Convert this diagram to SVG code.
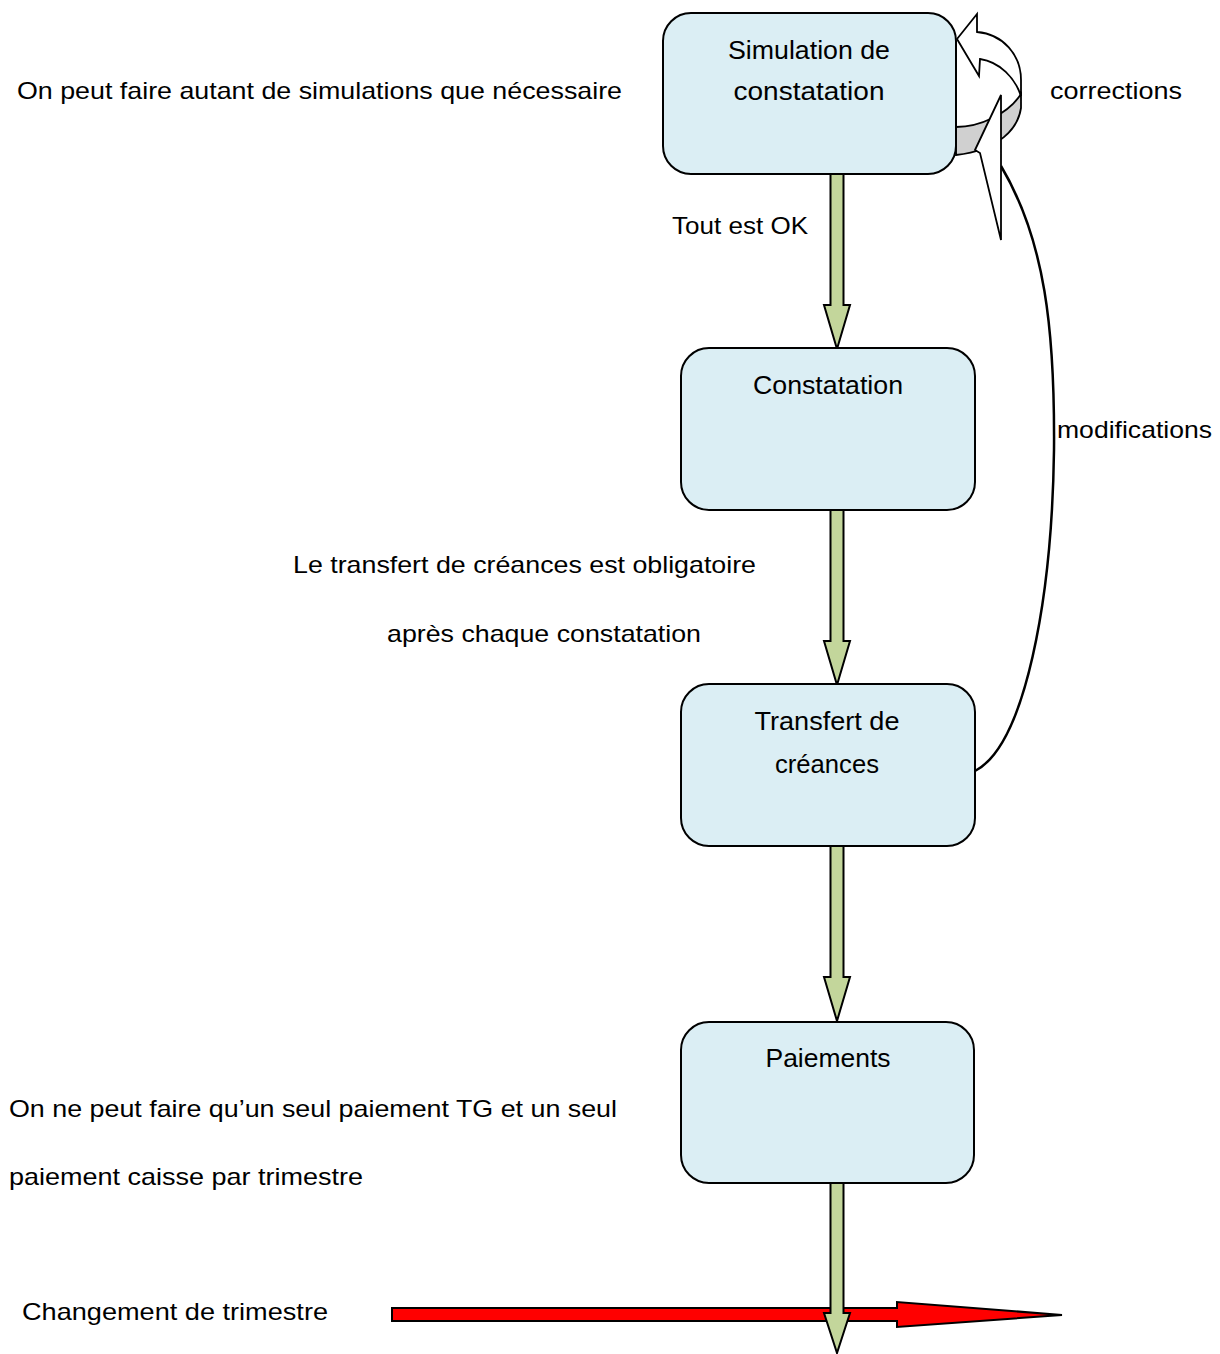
<svg xmlns="http://www.w3.org/2000/svg" width="1220" height="1354" viewBox="0 0 1220 1354">
<style>
.box{fill:#dbeef4;stroke:#000;stroke-width:2}
.t{font-family:"Liberation Sans",Arial,sans-serif;font-size:24px;fill:#000}
.bt{font-family:"Liberation Sans",Arial,sans-serif;font-size:25px;fill:#000;text-anchor:middle}
.green{fill:#c3d69b;stroke:#000;stroke-width:2;stroke-linejoin:miter}
.red{fill:#ff0000;stroke:#000;stroke-width:2}
.wh{fill:#fff;stroke:#000;stroke-width:1.8;stroke-linejoin:miter}
.gr{fill:#d0d0d0;stroke:#000;stroke-width:1.8}
.curve{fill:none;stroke:#000;stroke-width:2.5}
</style>
<rect width="1220" height="1354" fill="#fff"/>

<g id="labels">
<text class="t" x="17" y="99" textLength="605" lengthAdjust="spacingAndGlyphs">On peut faire autant de simulations que nécessaire</text>
<text class="t" x="1050" y="99" textLength="132" lengthAdjust="spacingAndGlyphs">corrections</text>
<text class="t" x="672" y="234" textLength="136" lengthAdjust="spacingAndGlyphs">Tout est OK</text>
<text class="t" x="1057" y="438" textLength="155" lengthAdjust="spacingAndGlyphs">modifications</text>
<text class="t" x="293" y="573" textLength="463" lengthAdjust="spacingAndGlyphs">Le transfert de créances est obligatoire</text>
<text class="t" x="387" y="642" textLength="314" lengthAdjust="spacingAndGlyphs">après chaque constatation</text>
<text class="t" x="9" y="1117" textLength="608" lengthAdjust="spacingAndGlyphs">On ne peut faire qu’un seul paiement TG et un seul</text>
<text class="t" x="9" y="1185" textLength="354" lengthAdjust="spacingAndGlyphs">paiement caisse par trimestre</text>
<text class="t" x="22" y="1320" textLength="306" lengthAdjust="spacingAndGlyphs">Changement de trimestre</text>
</g>

<g id="connectors">
<path class="red" d="M392,1308 H897 V1302 L1062,1315 L897,1327 V1321 H392 Z"/>
<path class="green" d="M830.5,174 H843.5 V305 H850 L837,349 L824,305 H830.5 Z"/>
<path class="green" d="M830.5,510 H843.5 V641 H850 L837,685 L824,641 H830.5 Z"/>
<path class="green" d="M830.5,846 H843.5 V977 H850 L837,1021 L824,977 H830.5 Z"/>
<path class="green" d="M830.5,1183 H843.5 V1313 H850 L837,1353 L824,1313 H830.5 Z"/>
<path class="curve" d="M975,771 C1025,745 1052,600 1054,450 C1055,330 1045,240 1001,166"/>
<path class="gr" d="M956,127 C980,127 1008,114 1021,94 L1021,108 C1018,128 1000,150 956,155 Z"/>
<path class="wh" d="M957,39 L977,14 L977,32 C1003,34 1021,55 1021,80 L1021,96 C1015,78 1000,62 980,59 L979,76 Z"/>
<path class="wh" d="M1001,95 L975,150 L980,153 L1001,240 Z"/>
</g>

<g id="node-simulation">
<rect class="box" x="663" y="13" width="293" height="161" rx="28" ry="28"/>
<text class="bt" x="809" y="59" textLength="162" lengthAdjust="spacingAndGlyphs">Simulation de</text>
<text class="bt" x="809" y="100" textLength="151" lengthAdjust="spacingAndGlyphs">constatation</text>
</g>
<g id="node-constatation">
<rect class="box" x="681" y="348" width="294" height="162" rx="28" ry="28"/>
<text class="bt" x="828" y="394" textLength="150" lengthAdjust="spacingAndGlyphs">Constatation</text>
</g>
<g id="node-transfert">
<rect class="box" x="681" y="684" width="294" height="162" rx="28" ry="28"/>
<text class="bt" x="827" y="730" textLength="145" lengthAdjust="spacingAndGlyphs">Transfert de</text>
<text class="bt" x="827" y="773" textLength="104" lengthAdjust="spacingAndGlyphs">créances</text>
</g>
<g id="node-paiements">
<rect class="box" x="681" y="1022" width="293" height="161" rx="28" ry="28"/>
<text class="bt" x="828" y="1067" textLength="125" lengthAdjust="spacingAndGlyphs">Paiements</text>
</g>
</svg>
